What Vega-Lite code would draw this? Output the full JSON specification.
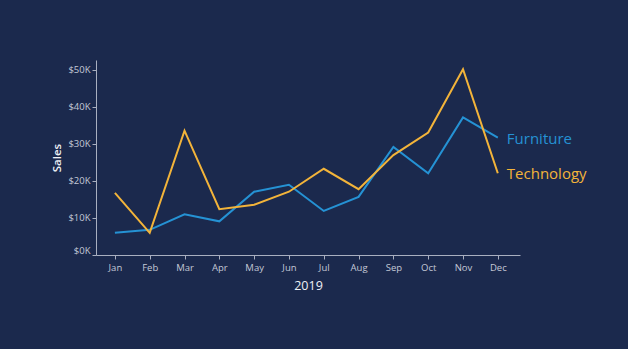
{
  "$schema": "https://vega.github.io/schema/vega-lite/v6.json",
  "autosize": "none",
  "width": 424,
  "height": 195,
  "padding": {"left": 96, "top": 60, "right": 108, "bottom": 94},
  "background": "#1b294d",
  "config": {
    "view": {"stroke": null},
    "font": "Open Sans"
  },
  "data": {
    "values": [
      {"month": "Jan", "category": "Furniture", "sales": 6000},
      {"month": "Feb", "category": "Furniture", "sales": 6800},
      {"month": "Mar", "category": "Furniture", "sales": 11000},
      {"month": "Apr", "category": "Furniture", "sales": 9100},
      {"month": "May", "category": "Furniture", "sales": 17100},
      {"month": "Jun", "category": "Furniture", "sales": 19000},
      {"month": "Jul", "category": "Furniture", "sales": 11900},
      {"month": "Aug", "category": "Furniture", "sales": 15700},
      {"month": "Sep", "category": "Furniture", "sales": 29200},
      {"month": "Oct", "category": "Furniture", "sales": 22100},
      {"month": "Nov", "category": "Furniture", "sales": 37200},
      {"month": "Dec", "category": "Furniture", "sales": 31700},
      {"month": "Jan", "category": "Technology", "sales": 16800},
      {"month": "Feb", "category": "Technology", "sales": 6000},
      {"month": "Mar", "category": "Technology", "sales": 33600},
      {"month": "Apr", "category": "Technology", "sales": 12400},
      {"month": "May", "category": "Technology", "sales": 13600},
      {"month": "Jun", "category": "Technology", "sales": 17100},
      {"month": "Jul", "category": "Technology", "sales": 23300},
      {"month": "Aug", "category": "Technology", "sales": 17800},
      {"month": "Sep", "category": "Technology", "sales": 27000},
      {"month": "Oct", "category": "Technology", "sales": 33100},
      {"month": "Nov", "category": "Technology", "sales": 50200},
      {"month": "Dec", "category": "Technology", "sales": 22100}
    ]
  },
  "encoding": {
    "x": {
      "field": "month",
      "type": "ordinal",
      "sort": ["Jan","Feb","Mar","Apr","May","Jun","Jul","Aug","Sep","Oct","Nov","Dec"],
      "scale": {"type": "point", "padding": 0.59, "align": 0.46},
      "axis": {
        "title": "2019",
        "labelAngle": 0,
        "labelColor": "#c3c8d6",
        "labelFontSize": 9.5,
        "labelPadding": 3,
        "tickColor": "#a9afc0",
        "tickSize": 4,
        "domainColor": "#a9afc0",
        "titleColor": "#eef0f5",
        "titleFontSize": 12.5,
        "titleFontWeight": "normal",
        "titlePadding": 8,
        "grid": false
      }
    },
    "y": {
      "field": "sales",
      "type": "quantitative",
      "scale": {"domain": [0, 52700], "nice": false},
      "axis": {
        "title": "Sales",
        "values": [0, 10000, 20000, 30000, 40000, 50000],
        "labelExpr": "'$' + (datum.value / 1000) + 'K'",
        "labelColor": "#c3c8d6",
        "labelFontSize": 9.5,
        "labelFlush": true,
        "labelPadding": 2,
        "tickColor": "#a9afc0",
        "tickSize": 4,
        "domainColor": "#a9afc0",
        "titleColor": "#eef0f5",
        "titleFontSize": 11.5,
        "titleFontWeight": 600,
        "titlePadding": 5,
        "grid": false
      }
    },
    "color": {
      "field": "category",
      "type": "nominal",
      "scale": {"domain": ["Furniture", "Technology"], "range": ["#2592d4", "#f3b43a"]},
      "legend": null
    }
  },
  "layer": [
    {"mark": {"type": "line", "strokeWidth": 2}},
    {
      "transform": [{"filter": "datum.month == 'Dec'"}],
      "mark": {"type": "text", "align": "left", "baseline": "middle", "dx": 9, "dy": 1, "fontSize": 15},
      "encoding": {
        "text": {"field": "category"},
        "color": {
          "field": "category",
          "type": "nominal",
          "scale": {"domain": ["Furniture", "Technology"], "range": ["#2b8ed0", "#e8aa3c"]},
          "legend": null
        }
      }
    }
  ]
}
